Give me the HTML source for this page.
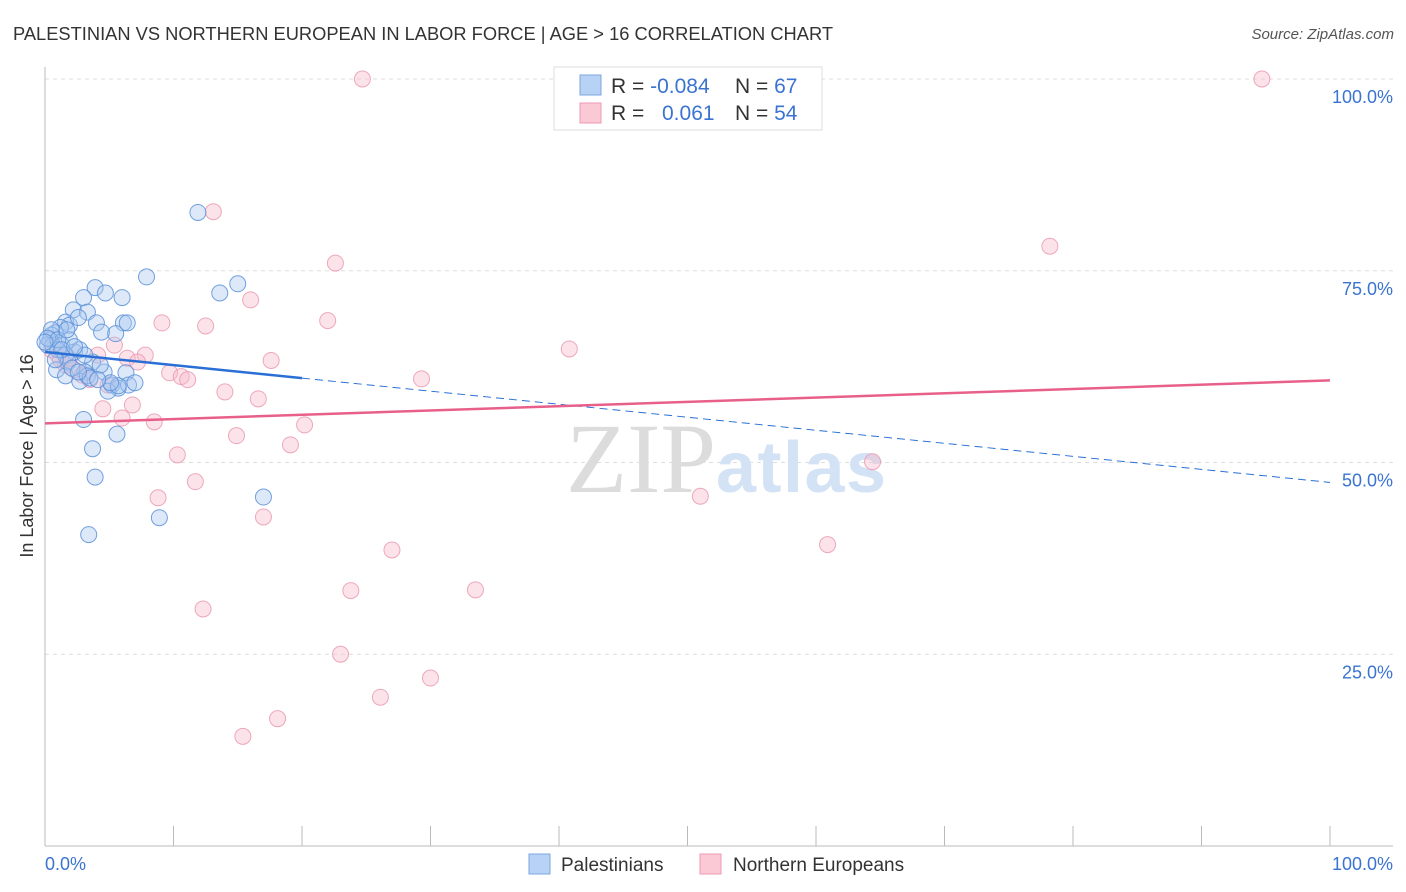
<!DOCTYPE html>
<html><head><meta charset="utf-8">
<style>
body{margin:0;background:#fff;font-family:"Liberation Sans",sans-serif;}
svg{display:block}
</style></head>
<body>
<svg id="chart" width="1406" height="892" xmlns="http://www.w3.org/2000/svg">
<text x="13" y="40" font-size="18" fill="#333" textLength="820" lengthAdjust="spacingAndGlyphs">PALESTINIAN VS NORTHERN EUROPEAN IN LABOR FORCE | AGE &gt; 16 CORRELATION CHART</text>
<text x="1394" y="39" font-size="15" fill="#555" font-style="italic" text-anchor="end">Source: ZipAtlas.com</text>
<g id="grid"></g>
<text x="716" y="492" font-size="100" fill="#dcdcdc" text-anchor="end" font-family="Liberation Serif,serif">ZIP</text>
<text x="716" y="492" font-size="72" fill="#d3e2f4" font-weight="bold" textLength="170">atlas</text>
<g id="marks"></g>
<text transform="translate(33,456) rotate(-90)" font-size="18" fill="#333" text-anchor="middle">In Labor Force | Age &gt; 16</text>
<text x="45" y="870" font-size="18" fill="#3a74d0">0.0%</text>
<text x="1393" y="870" font-size="18" fill="#3a74d0" text-anchor="end">100.0%</text>
<g>
<rect x="554" y="67" width="268" height="63" fill="#fff" stroke="#ddd"/>
<rect x="580" y="75" width="21" height="20" fill="#b8d2f5" stroke="#7aa6e0"/>
<rect x="580" y="103" width="21" height="20" fill="#fbc8d6" stroke="#ee9ab2"/>
<text x="611" y="93" font-size="21" fill="#333">R = <tspan fill="#3a74d0">-0.084</tspan></text>
<text x="735" y="93" font-size="21" fill="#333">N = <tspan fill="#3a74d0">67</tspan></text>
<text x="611" y="120" font-size="21" fill="#333">R = <tspan fill="#3a74d0" x="662">0.061</tspan></text>
<text x="735" y="120" font-size="21" fill="#333">N = <tspan fill="#3a74d0">54</tspan></text>
</g>
<g>
<rect x="529" y="854" width="21" height="20" fill="#b8d2f5" stroke="#7aa6e0"/>
<text x="561" y="871" font-size="19" fill="#333">Palestinians</text>
<rect x="700" y="854" width="21" height="20" fill="#fbc8d6" stroke="#ee9ab2"/>
<text x="733" y="871" font-size="19" fill="#333">Northern Europeans</text>
</g>
</svg>
<script>
const yTicks=[25,50,75,100];
const yTickLabels=["25.0%","50.0%","75.0%","100.0%"];
const blueX=[11.9,7.9,15.0,3.9,13.6,4.7,6.0,3.0,2.2,3.3,6.1,4.0,1.6,1.9,2.6,4.4,1.2,0.8,0.5,0.4,0.2,0.6,1.3,1.9,2.3,1.0,1.6,2.7,1.8,3.7,3.1,4.6,6.3,0.9,1.6,2.7,3.3,5.2,5.7,4.9,6.5,7.0,5.7,3.0,3.7,5.6,3.9,8.9,3.4,17.0,5.5,6.4,0.5,0.2,1.0,0.0,2.1,3.5,2.6,1.3,4.3,5.1,3.1,0.8,1.7,2.3,4.1];
const blueY=[82.6,74.2,73.3,72.8,72.1,72.1,71.5,71.5,69.9,69.6,68.2,68.2,68.3,67.9,68.9,67.0,67.6,66.9,66.6,66.0,65.3,65.3,65.3,66.0,64.4,64.7,64.0,64.7,63.1,63.1,61.8,61.8,61.7,62.1,61.3,60.6,61.3,60.1,59.7,59.3,60.1,60.4,60.0,55.6,51.8,53.7,48.1,42.8,40.6,45.5,66.8,68.2,67.3,66.2,66.0,65.7,62.3,61.0,61.8,64.7,62.7,60.4,64.0,63.4,67.3,65.1,60.8];
const pinkX=[24.7,94.7,13.1,78.2,22.6,16.0,9.1,12.5,22.0,40.8,17.6,7.8,6.4,7.2,4.1,5.4,1.0,1.6,2.3,2.9,3.5,9.7,10.6,11.1,4.9,29.3,14.0,16.6,4.5,6.8,6.0,8.5,20.2,14.9,19.1,10.3,64.4,11.7,51.0,8.8,17.0,27.0,60.9,23.8,33.5,12.3,23.0,30.0,26.1,18.1,15.4,0.5,1.2,1.9];
const pinkY=[100,100,82.7,78.2,76.0,71.2,68.2,67.8,68.5,64.8,63.3,64.0,63.6,63.1,64.0,65.3,64.0,62.7,62.1,61.4,60.8,61.7,61.2,60.8,60.1,60.9,59.2,58.3,57.0,57.5,55.8,55.3,54.9,53.5,52.3,51.0,50.1,47.5,45.6,45.4,42.9,38.6,39.3,33.3,33.4,30.9,25.0,21.9,19.4,16.6,14.3,64.7,63.4,63.6];
const blueTrend=[64.4,47.4];
const pinkTrend=[55.1,60.7];
const X0=45,X1=1330,YB=846,YT=79;
const sx=v=>X0+(X1-X0)*v/100;
const sy=v=>YB-(YB-YT)*v/100;
const NS="http://www.w3.org/2000/svg";
function mk(t,a,p){const e=document.createElementNS(NS,t);for(const k in a)e.setAttribute(k,a[k]);p.appendChild(e);return e;}
const grid=document.getElementById('grid');
const marks=document.getElementById('marks');
yTicks.forEach((t,i)=>{
 const l=mk('line',{x1:X0,x2:1393,y1:sy(t),y2:sy(t),stroke:'#ddd','stroke-dasharray':'4,4'},grid);
 
 
 const tx=mk('text',{x:1393,y:sy(t)+24,'font-size':18,fill:'#3a74d0','text-anchor':'end'},grid);
 tx.textContent=yTickLabels[i];
 
 
});
const ax=mk('line',{x1:X0,x2:1393,y1:YB,y2:YB,stroke:'#bbb'},grid);


const ay=mk('line',{x1:X0,x2:X0,y1:67,y2:YB,stroke:'#bbb'},grid);


for(let i=0;i<=10;i++){
 const tk=mk('line',{x1:sx(i*10),x2:sx(i*10),y1:826,y2:YB,stroke:'#bbb'},grid);
 
 
}
function dots(xs,ys,fill,stroke,name){
 xs.forEach((x,i)=>{
  const c=mk('circle',{cx:sx(x),cy:sy(ys[i]),r:8,fill:fill,'fill-opacity':0.4,stroke:stroke,'stroke-width':1,'stroke-opacity':0.85},marks);
  
  
 });
}
dots(pinkX,pinkY,'#f7b8ca','#ea9ab2','point-northern-european');
dots(blueX,blueY,'#aac8f0','#5a90d8','point-palestinian');
const bAt=x=>blueTrend[0]+(blueTrend[1]-blueTrend[0])*x/100;
const b1=mk('line',{x1:sx(0),y1:sy(bAt(0)),x2:sx(20),y2:sy(bAt(20)),stroke:'#2a6fd6','stroke-width':2.5},marks);


const b2=mk('line',{x1:sx(20),y1:sy(bAt(20)),x2:sx(100),y2:sy(bAt(100)),stroke:'#2a6fd6','stroke-width':1,'stroke-dasharray':'8,5'},marks);


const p1=mk('line',{x1:sx(0),y1:sy(pinkTrend[0]),x2:sx(100),y2:sy(pinkTrend[1]),stroke:'#e8608a','stroke-width':2.5},marks);


</script>
</body></html>
